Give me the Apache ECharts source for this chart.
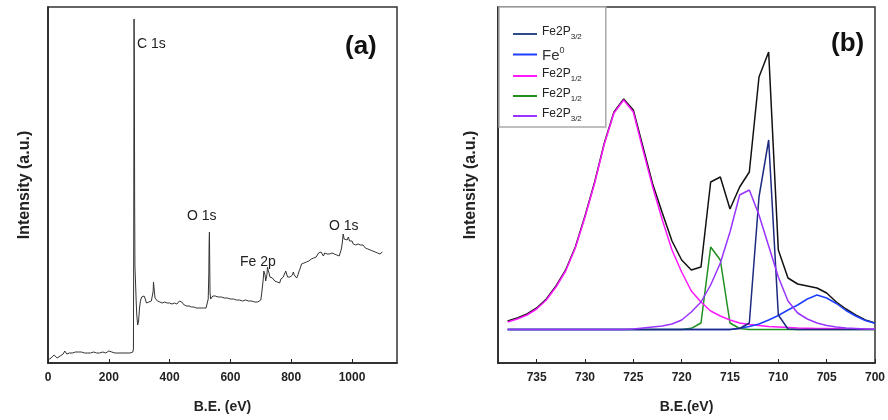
<!DOCTYPE html>
<html><head><meta charset="utf-8">
<script src="https://cdn.jsdelivr.net/npm/echarts@6/dist/echarts.min.js"></script>
<style>html,body{margin:0;padding:0;background:#fff}#c{width:888px;height:420px}</style>
</head><body><div id="c"></div>
<script>
// ---- Panel (a): survey spectrum (B.E. eV, intensity a.u.)
const surveyEnergy = [0,5,10,15,20,25,30,35,40,45,50,55,58,62,66,70,75,80,85,90,95,100,105,110,115,120,125,130,135,140,145,150,155,160,165,170,175,180,185,190,195,200,205,210,215,220,225,230,235,240,245,250,255,260,265,270,275,279,281,282,283,284,285,286,288,290,292,295,298,301,304,308,312,316,320,324,328,332,336,340,344,346,347,349,352,356,360,364,368,372,376,380,384,388,392,396,400,404,408,412,416,420,424,428,432,436,440,444,448,452,456,460,464,468,472,476,480,484,488,492,496,500,504,508,512,516,520,524,527,529,530,531,532,533,535,538,542,546,550,555,560,565,570,575,580,585,590,595,600,605,610,615,620,625,630,635,640,645,650,655,660,665,670,675,680,685,690,695,700,703,706,708,710,712,714,716,718,720,722,724,727,730,734,738,742,746,750,754,758,762,766,770,774,778,782,785,788,792,796,800,804,807,810,814,818,822,826,830,834,838,842,846,850,854,858,862,866,870,874,878,882,886,890,894,898,902,906,910,914,918,922,926,930,934,938,942,946,950,954,958,962,965,968,971,974,977,980,984,988,992,996,1000,1004,1008,1012,1016,1020,1024,1028,1032,1036,1040,1044,1048,1052,1056,1060,1064,1068,1072,1076,1080,1084,1088,1092,1095,1098,1100];
const surveyIntensity = [3,4,5,7,8,6,5,6,7,8,9,12,10,9,10,10,11,10,11,11,12,11,10,11,10,10,11,10,11,10,10,11,10,10,11,10,10,11,10,10,11,12,10,11,10,10,11,10,11,10,12,10,11,10,11,10,12,11,14,120,344,300,160,96,80,62,48,38,42,55,62,66,68,67,64,60,62,61,63,62,64,72,81,74,65,63,62,64,61,63,60,62,61,63,60,62,60,61,59,61,60,62,59,61,62,64,61,60,58,59,57,58,57,58,56,57,56,57,55,56,55,56,55,56,55,56,55,57,64,90,120,131,100,70,64,66,67,68,67,68,66,67,66,67,65,66,65,66,64,65,64,65,63,64,63,64,62,63,63,61,62,60,62,60,61,59,61,60,63,70,78,84,92,94,88,82,84,88,96,93,90,86,84,85,83,82,84,81,82,80,84,83,86,88,92,90,86,85,86,84,88,91,88,86,85,88,92,95,99,97,100,98,101,99,102,101,104,102,105,103,106,104,110,108,111,109,107,110,108,109,107,109,108,110,108,109,107,108,106,107,108,114,120,129,124,122,125,123,126,122,121,122,119,121,118,120,119,117,118,116,118,117,115,116,114,116,113,115,112,114,111,113,110,112,109,111,110,111];
const surveyTicks = [0,200,400,600,800,1000];

// ---- Panel (b): Fe 2p high-resolution fit
const fitEnergy = [738,737,736,735,734,733,732,731,730,729,728,727,726,725,724,723,722,721,720,719,718,717,716,715,714,713,712,711,710,709,708,707,706,705,704,703,702,701,700];
const fitEnvelope = [42,45,49,55,64,77,93,116,147,181,220,251,264,253,216,179,150,122,103,93,96,181,186,154,176,191,286,311,113,85,79,77,75,70,61,54,48,43,40];
const fitFe2p32Main = [33.5,33.5,33.5,33.5,33.5,33.5,33.5,33.5,33.5,33.5,33.5,33.5,33.5,33.5,33.5,33.5,33.5,33.5,33.5,33.5,33.5,33.5,33.5,33.5,34.5,40,166,223,48,34,33.5,33.5,33.5,33.5,33.5,33.5,33.5,33.5,33.5];
const fitFe0 = [33.5,33.5,33.5,33.5,33.5,33.5,33.5,33.5,33.5,33.5,33.5,33.5,33.5,33.5,33.5,33.5,33.5,33.5,33.5,33.5,33.5,33.5,33.5,33.6,34.7,36.5,39,43,47.5,53,58,64,68,65,59.5,52.5,47,42.5,39.7];
const fitFe2p12Main = [41,44,48,54,63,76,92,115,146,180,219,250,263,251,213,176,143,113,91,72,61,52,47,43,40,38.5,37.5,36.5,36,35.5,35,34.8,34.6,34.4,34.2,34,34,33.8,33.8];
const fitFe2p12Sat = [33.5,33.5,33.5,33.5,33.5,33.5,33.5,33.5,33.5,33.5,33.5,33.5,33.5,33.5,33.5,33.5,33.5,33.5,33.5,34.7,40,116,103,40,34.5,33.5,33.5,33.5,33.5,33.5,33.5,33.5,33.5,33.5,33.5,33.5,33.5,33.5,33.5];
const fitFe2p32Sat = [33.5,33.5,33.5,33.5,33.5,33.5,33.5,33.5,33.5,33.5,33.5,33.5,33.5,34,35,36,37,39,43,51,61,78,100,131,168,173,148,117,86,62,50,44,40,37.5,36,35,34.5,34,33.8];
const fitTicks = [735,730,725,720,715,710,705,700];

const legendNames = ['Fe2P3/2 A','Fe0','Fe2P1/2 A','Fe2P1/2 B','Fe2P3/2 B'];
const legendText = {
  'Fe2P3/2 A':'{m|Fe2P}{s|3/2}',
  'Fe0':'{b|Fe}{p|0}',
  'Fe2P1/2 A':'{m|Fe2P}{s|1/2}',
  'Fe2P1/2 B':'{m|Fe2P}{s|1/2}',
  'Fe2P3/2 B':'{m|Fe2P}{s|3/2}'
};

const pairs = (xs, ys) => xs.map((x, i) => [x, ys[i]]);
const FONT = '"Liberation Sans", Arial, sans-serif';
const axisLabelStyle = {fontFamily: FONT, fontWeight: 'bold', fontSize: 12, color: '#222', margin: 9};
const nameStyle = {fontFamily: FONT, fontWeight: 'bold', fontSize: 14, color: '#222'};

const chart = echarts.init(document.getElementById('c'), null, {renderer: 'canvas'});
function lineSeries(name, data, color, width, z) {
  return {type: 'line', name, xAxisIndex: 1, yAxisIndex: 1, data, symbol: 'none', showSymbol: false, z,
    lineStyle: {color, width}, itemStyle: {color}, animation: false};
}
chart.setOption({
  animation: false,
  backgroundColor: '#fff',
  grid: [
    {left: 48, top: 7, width: 349, height: 356, show: true, borderColor: '#333', borderWidth: 1.5},
    {left: 498, top: 7, width: 379, height: 356, show: true, borderColor: '#333', borderWidth: 1.5}
  ],
  xAxis: [
    {type: 'value', gridIndex: 0, min: 0, max: 1148, interval: 200,
     axisLine: {show: true, onZero: false, lineStyle: {color: '#222', width: 1.5}},
     axisTick: {show: true, inside: true, length: 4, lineStyle: {color: '#222'}},
     splitLine: {show: false},
     axisLabel: Object.assign({}, axisLabelStyle, {formatter: v => surveyTicks.includes(v) ? String(v) : '', showMaxLabel: false}),
     name: 'B.E. (eV)', nameLocation: 'middle', nameGap: 37, nameTextStyle: nameStyle},
    {type: 'value', gridIndex: 1, min: 700, max: 739, interval: 5, inverse: true,
     axisLine: {show: true, onZero: false, lineStyle: {color: '#222', width: 1.5}},
     axisTick: {show: true, inside: true, length: 4, lineStyle: {color: '#222'}},
     splitLine: {show: false},
     axisLabel: Object.assign({}, axisLabelStyle, {formatter: v => fitTicks.includes(v) ? String(v) : '', showMaxLabel: false}),
     name: 'B.E.(eV)', nameLocation: 'middle', nameGap: 37, nameTextStyle: nameStyle}
  ],
  yAxis: [
    {type: 'value', gridIndex: 0, min: 0, max: 356,
     axisLine: {show: true, lineStyle: {color: '#222', width: 1.5}},
     axisTick: {show: false}, axisLabel: {show: false}, splitLine: {show: false},
     name: 'Intensity (a.u.)', nameLocation: 'middle', nameGap: 15,
     nameTextStyle: Object.assign({}, nameStyle, {fontSize: 16})},
    {type: 'value', gridIndex: 1, min: 0, max: 356,
     axisLine: {show: true, lineStyle: {color: '#222', width: 1.5}},
     axisTick: {show: false}, axisLabel: {show: false}, splitLine: {show: false},
     name: 'Intensity (a.u.)', nameLocation: 'middle', nameGap: 19,
     nameTextStyle: Object.assign({}, nameStyle, {fontSize: 16})}
  ],
  legend: {
    data: legendNames.map((n, i) => ({name: n, icon: 'rect', itemStyle: i === 0 ? {color: '#2d4a8a'} : undefined})),
    left: 499, top: 7, orient: 'vertical', align: 'left',
    icon: 'rect', itemWidth: 24, itemHeight: 2, itemGap: 5,
    padding: [19, 24, 4, 14],
    borderColor: '#aaa', borderWidth: 1.5, backgroundColor: '#fff',
    formatter: n => legendText[n], selectedMode: false,
    textStyle: {fontFamily: FONT, color: '#222', rich: {
      m: {fontFamily: FONT, fontSize: 12, color: '#222', lineHeight: 14, verticalAlign: 'bottom', padding: [0,0,3,0]},
      s: {fontFamily: FONT, fontSize: 8, color: '#222', lineHeight: 9, verticalAlign: 'bottom'},
      b: {fontFamily: FONT, fontSize: 15, color: '#333', lineHeight: 17, verticalAlign: 'bottom'},
      p: {fontFamily: FONT, fontSize: 9, color: '#333', lineHeight: 10, verticalAlign: 'top'}
    }}
  },
  series: [
    {type: 'line', name: 'survey', xAxisIndex: 0, yAxisIndex: 0, data: pairs(surveyEnergy, surveyIntensity),
     symbol: 'none', lineStyle: {color: '#333', width: 1}, itemStyle: {color: '#333'}},
    lineSeries('envelope', pairs(fitEnergy, fitEnvelope), '#111', 1.5, 1),
    lineSeries('Fe2P1/2 B', pairs(fitEnergy, fitFe2p12Sat), '#1f8f1f', 1.5, 2),
    lineSeries('Fe2P1/2 A', pairs(fitEnergy, fitFe2p12Main), '#ff19ff', 1.5, 3),
    lineSeries('Fe0', pairs(fitEnergy, fitFe0), '#1f3fff', 1.5, 4),
    lineSeries('Fe2P3/2 A', pairs(fitEnergy, fitFe2p32Main), '#1c2a80', 1.5, 5),
    lineSeries('Fe2P3/2 B', pairs(fitEnergy, fitFe2p32Sat), '#9a33ff', 1.5, 6)
  ],
  graphic: [
    {type: 'text', x: 137, y: 44, style: {text: 'C 1s', font: '14px ' + FONT, fill: '#222', textVerticalAlign: 'middle'}},
    {type: 'text', x: 187, y: 216, style: {text: 'O 1s', font: '14px ' + FONT, fill: '#222', textVerticalAlign: 'middle'}},
    {type: 'text', x: 240, y: 262, style: {text: 'Fe 2p', font: '14px ' + FONT, fill: '#222', textVerticalAlign: 'middle'}},
    {type: 'text', x: 329, y: 226, style: {text: 'O 1s', font: '14px ' + FONT, fill: '#222', textVerticalAlign: 'middle'}},
    {type: 'text', x: 345, y: 47, style: {text: '(a)', font: 'bold 26px ' + FONT, fill: '#111', textVerticalAlign: 'middle'}},
    {type: 'text', x: 831, y: 44, style: {text: '(b)', font: 'bold 26px ' + FONT, fill: '#111', textVerticalAlign: 'middle'}}
  ]
});
</script></body></html>
